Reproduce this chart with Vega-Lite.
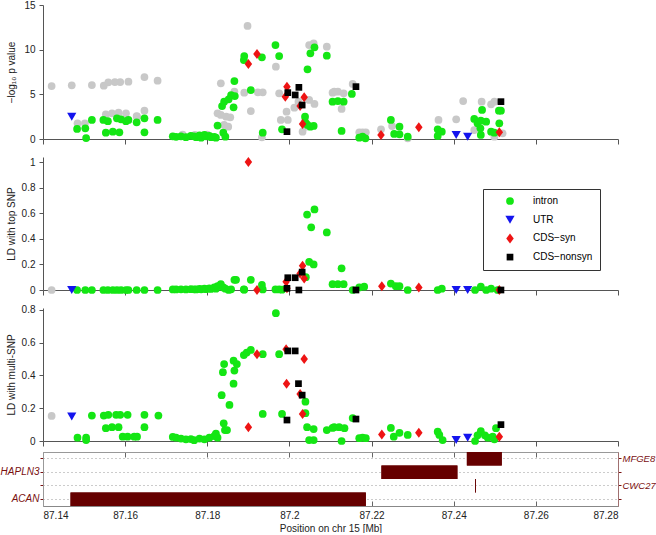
{
  "$schema": "https://vega.github.io/schema/vega-lite/v6.json",
  "padding": 0,
  "background": "white",
  "spacing": 18,
  "bounds": "flush",
  "datasets": {
    "logp": [
      {"x":87.1483,"type":"intron","v":1.12},{"x":87.1503,"type":"intron","v":1.20},{"x":87.1505,"type":"intron","v":0.11},{"x":87.1519,"type":"intron","v":2.13},{"x":87.1547,"type":"intron","v":2.13},{"x":87.1558,"type":"intron","v":2.00},{"x":87.1553,"type":"intron","v":0.71},{"x":87.1570,"type":"intron","v":0.82},{"x":87.1580,"type":"intron","v":2.31},{"x":87.1586,"type":"intron","v":0.75},{"x":87.1590,"type":"intron","v":2.20},{"x":87.1602,"type":"intron","v":2.00},{"x":87.1608,"type":"intron","v":2.13},{"x":87.1628,"type":"intron","v":1.87},{"x":87.1647,"type":"intron","v":2.31},{"x":87.1647,"type":"intron","v":0.75},{"x":87.1679,"type":"intron","v":2.13},
      {"x":87.1716,"type":"intron","v":0.30},{"x":87.1724,"type":"intron","v":0.25},{"x":87.1736,"type":"intron","v":0.30},{"x":87.1748,"type":"intron","v":0.20},{"x":87.1760,"type":"intron","v":0.35},{"x":87.1768,"type":"intron","v":0.30},{"x":87.1773,"type":"intron","v":0.20},{"x":87.1781,"type":"intron","v":0.40},{"x":87.1785,"type":"intron","v":0.15},{"x":87.1793,"type":"intron","v":0.45},{"x":87.1797,"type":"intron","v":0.30},{"x":87.1805,"type":"intron","v":0.35},{"x":87.1809,"type":"intron","v":0.20},{"x":87.1817,"type":"intron","v":0.25},{"x":87.1821,"type":"intron","v":0.15},
      {"x":87.1825,"type":"intron","v":1.50},{"x":87.1836,"type":"intron","v":3.69},{"x":87.1841,"type":"intron","v":4.18},{"x":87.1839,"type":"intron","v":0.71},{"x":87.1844,"type":"intron","v":0.26},{"x":87.1852,"type":"intron","v":4.44},{"x":87.1858,"type":"intron","v":4.90},{"x":87.1867,"type":"intron","v":4.81},{"x":87.1864,"type":"intron","v":3.55},{"x":87.1866,"type":"intron","v":6.49},{"x":87.1889,"type":"intron","v":8.84},{"x":87.1890,"type":"intron","v":9.29},{"x":87.1906,"type":"intron","v":5.48},{"x":87.1933,"type":"intron","v":9.14},{"x":87.1935,"type":"intron","v":0.71},{"x":87.1966,"type":"intron","v":10.52},{"x":87.1975,"type":"intron","v":9.29},{"x":87.1982,"type":"intron","v":1.08},
      {"x":87.2038,"type":"intron","v":2.50},{"x":87.2040,"type":"intron","v":1.79},{"x":87.2044,"type":"intron","v":1.57},{"x":87.2051,"type":"intron","v":1.38},{"x":87.2059,"type":"intron","v":1.46},{"x":87.2044,"type":"intron","v":7.80},{"x":87.2051,"type":"intron","v":9.59},{"x":87.2061,"type":"intron","v":10.26},{"x":87.2091,"type":"intron","v":9.33},{"x":87.2105,"type":"intron","v":4.18},{"x":87.2118,"type":"intron","v":4.25},{"x":87.2132,"type":"intron","v":4.18},{"x":87.2152,"type":"intron","v":5.04},{"x":87.2127,"type":"intron","v":0.90},{"x":87.2170,"type":"intron","v":0.15},{"x":87.2178,"type":"intron","v":0.26},{"x":87.2185,"type":"intron","v":0.08},
      {"x":87.2247,"type":"intron","v":2.13},{"x":87.2255,"type":"intron","v":0.56},{"x":87.2268,"type":"intron","v":0.52},{"x":87.2268,"type":"intron","v":1.38},{"x":87.2288,"type":"intron","v":0.26},{"x":87.2361,"type":"intron","v":1.08},{"x":87.2371,"type":"intron","v":0.82},{"x":87.2361,"type":"intron","v":0.34},{"x":87.2450,"type":"intron","v":2.24},{"x":87.2458,"type":"intron","v":1.76},{"x":87.2466,"type":"intron","v":2.05},{"x":87.2479,"type":"intron","v":1.94},{"x":87.2469,"type":"intron","v":3.25},{"x":87.2465,"type":"intron","v":1.20},{"x":87.2466,"type":"intron","v":0.45},{"x":87.2491,"type":"intron","v":0.82},{"x":87.2499,"type":"intron","v":0.71},{"x":87.2510,"type":"intron","v":3.17},{"x":87.2515,"type":"intron","v":3.17},{"x":87.2511,"type":"intron","v":1.76},
      {"x":87.1470,"type":"UTR","v":2.50},{"x":87.2406,"type":"UTR","v":0.45},{"x":87.2434,"type":"UTR","v":0.26},
      {"x":87.1921,"type":"CDS-syn","v":9.51},{"x":87.1900,"type":"CDS-syn","v":8.40},{"x":87.1994,"type":"CDS-syn","v":5.86},{"x":87.1990,"type":"CDS-syn","v":4.74},{"x":87.2036,"type":"CDS-syn","v":4.66},{"x":87.2026,"type":"CDS-syn","v":3.69},{"x":87.2032,"type":"CDS-syn","v":1.68},{"x":87.2223,"type":"CDS-syn","v":0.45},{"x":87.2315,"type":"CDS-syn","v":1.31},{"x":87.2511,"type":"CDS-syn","v":0.75},
      {"x":87.1996,"type":"CDS-nonsyn","v":5.19},{"x":87.2014,"type":"CDS-nonsyn","v":4.93},{"x":87.2023,"type":"CDS-nonsyn","v":5.78},{"x":87.2031,"type":"CDS-nonsyn","v":3.80},{"x":87.1994,"type":"CDS-nonsyn","v":0.82},{"x":87.2162,"type":"CDS-nonsyn","v":5.86},{"x":87.2515,"type":"CDS-nonsyn","v":4.18}
    ],
    "logpGrey": [
      {"x":87.1421,"v":5.93},{"x":87.1470,"v":6.01},{"x":87.1519,"v":6.04},{"x":87.1548,"v":5.97},{"x":87.1559,"v":6.35},{"x":87.1575,"v":6.38},{"x":87.1588,"v":6.38},{"x":87.1608,"v":6.41},{"x":87.1647,"v":6.94},{"x":87.1679,"v":6.53},
      {"x":87.1484,"v":1.76},{"x":87.1502,"v":1.76},{"x":87.1553,"v":2.76},{"x":87.1568,"v":2.88},{"x":87.1584,"v":2.95},{"x":87.1602,"v":2.88},{"x":87.1628,"v":2.57},{"x":87.1647,"v":3.17},{"x":87.1629,"v":2.50},
      {"x":87.1740,"v":0.50},{"x":87.1770,"v":0.45},{"x":87.1800,"v":0.50},
      {"x":87.1833,"v":6.23},{"x":87.1866,"v":5.30},{"x":87.1890,"v":5.19},{"x":87.1923,"v":5.23},{"x":87.1935,"v":5.23},{"x":87.1967,"v":8.10},{"x":87.1906,"v":3.13},{"x":87.1825,"v":2.88},{"x":87.1833,"v":2.69},{"x":87.1846,"v":2.50},{"x":87.1856,"v":2.43},{"x":87.1841,"v":1.57},{"x":87.1851,"v":1.38},{"x":87.1933,"v":0.19},{"x":87.1898,"v":12.65},
      {"x":87.2048,"v":10.52},{"x":87.2059,"v":10.71},{"x":87.2091,"v":10.34},{"x":87.1975,"v":5.12},{"x":87.1993,"v":3.06},{"x":87.1979,"v":2.13},{"x":87.1996,"v":2.13},{"x":87.2012,"v":3.50},{"x":87.2022,"v":4.18},{"x":87.2048,"v":4.37},{"x":87.2061,"v":3.92},{"x":87.2032,"v":0.82},{"x":87.2040,"v":1.38},{"x":87.2038,"v":2.00},
      {"x":87.2109,"v":5.30},{"x":87.2118,"v":5.30},{"x":87.2105,"v":5.19},{"x":87.2132,"v":5.12},{"x":87.2154,"v":6.16},{"x":87.2127,"v":3.36},{"x":87.2170,"v":0.75},{"x":87.2178,"v":0.75},{"x":87.2186,"v":0.75},{"x":87.2223,"v":1.08},{"x":87.2250,"v":1.45},{"x":87.2288,"v":0.08},
      {"x":87.2363,"v":2.13},{"x":87.2406,"v":2.20},{"x":87.2423,"v":4.25},{"x":87.2468,"v":4.18},{"x":87.2491,"v":3.88},{"x":87.2499,"v":4.18},{"x":87.2450,"v":1.00},{"x":87.2499,"v":0.26},{"x":87.2519,"v":0.64}
    ],
    "ldTop": [
      {"x":87.1483,"type":"intron","v":0},{"x":87.1503,"type":"intron","v":0},{"x":87.1519,"type":"intron","v":0},{"x":87.1547,"type":"intron","v":0},{"x":87.1558,"type":"intron","v":0},{"x":87.1570,"type":"intron","v":0},{"x":87.1580,"type":"intron","v":0},{"x":87.1590,"type":"intron","v":0},{"x":87.1602,"type":"intron","v":0},{"x":87.1608,"type":"intron","v":0},{"x":87.1628,"type":"intron","v":0},{"x":87.1647,"type":"intron","v":0},{"x":87.1679,"type":"intron","v":0},
      {"x":87.1716,"type":"intron","v":0.004},{"x":87.1724,"type":"intron","v":0.004},{"x":87.1736,"type":"intron","v":0.005},{"x":87.1748,"type":"intron","v":0.004},{"x":87.1760,"type":"intron","v":0.006},{"x":87.1768,"type":"intron","v":0.005},{"x":87.1773,"type":"intron","v":0.004},{"x":87.1781,"type":"intron","v":0.008},{"x":87.1785,"type":"intron","v":0.005},{"x":87.1793,"type":"intron","v":0.01},{"x":87.1797,"type":"intron","v":0.006},{"x":87.1805,"type":"intron","v":0.012},{"x":87.1809,"type":"intron","v":0.008},{"x":87.1817,"type":"intron","v":0.02},{"x":87.1821,"type":"intron","v":0.01},
      {"x":87.1825,"type":"intron","v":0.03},{"x":87.1833,"type":"intron","v":0.045},{"x":87.1839,"type":"intron","v":0.02},{"x":87.1844,"type":"intron","v":0.01},{"x":87.1852,"type":"intron","v":0.0},{"x":87.1858,"type":"intron","v":0.005},{"x":87.1866,"type":"intron","v":0.08},{"x":87.1870,"type":"intron","v":0.08},{"x":87.1889,"type":"intron","v":0.004},{"x":87.1890,"type":"intron","v":0.002},{"x":87.1906,"type":"intron","v":0.08},{"x":87.1933,"type":"intron","v":0.04},{"x":87.1935,"type":"intron","v":0.004},{"x":87.1966,"type":"intron","v":0.004},{"x":87.1975,"type":"intron","v":0.004},{"x":87.1982,"type":"intron","v":0.002},
      {"x":87.2040,"type":"intron","v":0.10},{"x":87.2043,"type":"intron","v":0.59},{"x":87.2048,"type":"intron","v":0.22},{"x":87.2053,"type":"intron","v":0.49},{"x":87.2059,"type":"intron","v":0.20},{"x":87.2061,"type":"intron","v":0.63},{"x":87.2091,"type":"intron","v":0.45},{"x":87.2105,"type":"intron","v":0.045},{"x":87.2118,"type":"intron","v":0.045},{"x":87.2132,"type":"intron","v":0.045},{"x":87.2127,"type":"intron","v":0.17},{"x":87.2154,"type":"intron","v":0.0},{"x":87.2170,"type":"intron","v":0.02},{"x":87.2182,"type":"intron","v":0.026},{"x":87.2247,"type":"intron","v":0.05},{"x":87.2259,"type":"intron","v":0.03},{"x":87.2268,"type":"intron","v":0.03},{"x":87.2288,"type":"intron","v":0.0},{"x":87.2361,"type":"intron","v":0.0},{"x":87.2371,"type":"intron","v":0.01},{"x":87.2452,"type":"intron","v":0.0},{"x":87.2466,"type":"intron","v":0.026},{"x":87.2479,"type":"intron","v":0.0},{"x":87.2491,"type":"intron","v":0.01},{"x":87.2507,"type":"intron","v":0.0},
      {"x":87.1470,"type":"UTR","v":0},{"x":87.2406,"type":"UTR","v":0},{"x":87.2434,"type":"UTR","v":0},
      {"x":87.1900,"type":"CDS-syn","v":1.0},{"x":87.1921,"type":"CDS-syn","v":0.0},{"x":87.1992,"type":"CDS-syn","v":0.065},{"x":87.1994,"type":"CDS-syn","v":0.013},{"x":87.2026,"type":"CDS-syn","v":0.13},{"x":87.2032,"type":"CDS-syn","v":0.19},{"x":87.2036,"type":"CDS-syn","v":0.09},{"x":87.2225,"type":"CDS-syn","v":0.03},{"x":87.2315,"type":"CDS-syn","v":0.02},{"x":87.2511,"type":"CDS-syn","v":0.0},
      {"x":87.1994,"type":"CDS-nonsyn","v":0.013},{"x":87.1996,"type":"CDS-nonsyn","v":0.096},{"x":87.2014,"type":"CDS-nonsyn","v":0.096},{"x":87.2023,"type":"CDS-nonsyn","v":0.0},{"x":87.2031,"type":"CDS-nonsyn","v":0.14},{"x":87.2162,"type":"CDS-nonsyn","v":0.0},{"x":87.2515,"type":"CDS-nonsyn","v":0.0}
    ],
    "ldMulti": [
      {"x":87.1484,"type":"intron","v":0.02},{"x":87.1505,"type":"intron","v":0.02},{"x":87.1505,"type":"intron","v":0.006},{"x":87.1519,"type":"intron","v":0.155},{"x":87.1548,"type":"intron","v":0.155},{"x":87.1559,"type":"intron","v":0.16},{"x":87.1553,"type":"intron","v":0.078},{"x":87.1568,"type":"intron","v":0.084},{"x":87.1584,"type":"intron","v":0.084},{"x":87.1578,"type":"intron","v":0.16},{"x":87.1588,"type":"intron","v":0.16},{"x":87.1606,"type":"intron","v":0.16},{"x":87.1594,"type":"intron","v":0.026},{"x":87.1606,"type":"intron","v":0.026},{"x":87.1622,"type":"intron","v":0.026},{"x":87.1629,"type":"intron","v":0.026},{"x":87.1647,"type":"intron","v":0.16},{"x":87.1647,"type":"intron","v":0.084},{"x":87.1681,"type":"intron","v":0.155},
      {"x":87.1716,"type":"intron","v":0.025},{"x":87.1724,"type":"intron","v":0.02},{"x":87.1736,"type":"intron","v":0.015},{"x":87.1748,"type":"intron","v":0.01},{"x":87.1760,"type":"intron","v":0.012},{"x":87.1768,"type":"intron","v":0.005},{"x":87.1781,"type":"intron","v":0.015},{"x":87.1793,"type":"intron","v":0.01},{"x":87.1805,"type":"intron","v":0.02},{"x":87.1817,"type":"intron","v":0.03},{"x":87.1821,"type":"intron","v":0.045},{"x":87.1825,"type":"intron","v":0.02},
      {"x":87.1835,"type":"intron","v":0.28},{"x":87.1838,"type":"intron","v":0.42},{"x":87.1841,"type":"intron","v":0.47},{"x":87.1840,"type":"intron","v":0.108},{"x":87.1843,"type":"intron","v":0.067},{"x":87.1848,"type":"intron","v":0.067},{"x":87.1854,"type":"intron","v":0.22},{"x":87.1864,"type":"intron","v":0.35},{"x":87.1866,"type":"intron","v":0.43},{"x":87.1864,"type":"intron","v":0.49},{"x":87.1872,"type":"intron","v":0.47},{"x":87.1889,"type":"intron","v":0.525},{"x":87.1896,"type":"intron","v":0.54},{"x":87.1906,"type":"intron","v":0.556},{"x":87.1935,"type":"intron","v":0.53},{"x":87.1935,"type":"intron","v":0.165},{"x":87.1967,"type":"intron","v":0.78},{"x":87.1975,"type":"intron","v":0.53},{"x":87.1982,"type":"intron","v":0.165},
      {"x":87.2039,"type":"intron","v":0.24},{"x":87.2039,"type":"intron","v":0.17},{"x":87.2043,"type":"intron","v":0.084},{"x":87.2059,"type":"intron","v":0.073},{"x":87.2048,"type":"intron","v":0.006},{"x":87.2059,"type":"intron","v":0.006},{"x":87.2091,"type":"intron","v":0.067},{"x":87.2109,"type":"intron","v":0.084},{"x":87.2121,"type":"intron","v":0.084},{"x":87.2105,"type":"intron","v":0.08},{"x":87.2134,"type":"intron","v":0.078},{"x":87.2154,"type":"intron","v":0.14},{"x":87.2127,"type":"intron","v":0.0},{"x":87.2170,"type":"intron","v":0.017},{"x":87.2178,"type":"intron","v":0.02},{"x":87.2186,"type":"intron","v":0.017},
      {"x":87.2247,"type":"intron","v":0.08},{"x":87.2254,"type":"intron","v":0.026},{"x":87.2268,"type":"intron","v":0.05},{"x":87.2288,"type":"intron","v":0.037},{"x":87.2361,"type":"intron","v":0.057},{"x":87.2365,"type":"intron","v":0.037},{"x":87.2373,"type":"intron","v":0.006},{"x":87.2452,"type":"intron","v":0.0},{"x":87.2458,"type":"intron","v":0.035},{"x":87.2466,"type":"intron","v":0.06},{"x":87.2476,"type":"intron","v":0.035},{"x":87.2483,"type":"intron","v":0.02},{"x":87.2495,"type":"intron","v":0.026},{"x":87.2499,"type":"intron","v":0.01},{"x":87.2503,"type":"intron","v":0.078},
      {"x":87.1470,"type":"UTR","v":0.15},{"x":87.2406,"type":"UTR","v":0.006},{"x":87.2434,"type":"UTR","v":0.02},
      {"x":87.1900,"type":"CDS-syn","v":0.084},{"x":87.1921,"type":"CDS-syn","v":0.53},{"x":87.1992,"type":"CDS-syn","v":0.56},{"x":87.1993,"type":"CDS-syn","v":0.35},{"x":87.2026,"type":"CDS-syn","v":0.287},{"x":87.2032,"type":"CDS-syn","v":0.165},{"x":87.2036,"type":"CDS-syn","v":0.5},{"x":87.2225,"type":"CDS-syn","v":0.04},{"x":87.2315,"type":"CDS-syn","v":0.05},{"x":87.2511,"type":"CDS-syn","v":0.026},
      {"x":87.1996,"type":"CDS-nonsyn","v":0.55},{"x":87.2014,"type":"CDS-nonsyn","v":0.55},{"x":87.2022,"type":"CDS-nonsyn","v":0.35},{"x":87.2031,"type":"CDS-nonsyn","v":0.28},{"x":87.1994,"type":"CDS-nonsyn","v":0.128},{"x":87.2162,"type":"CDS-nonsyn","v":0.134},{"x":87.2515,"type":"CDS-nonsyn","v":0.1}
    ],
    "greyLD": [{"x":87.1421,"top":0,"multi":0.153}],
    "genes": [
      {"gene":"MFGE8","start":87.2432,"end":87.2517},
      {"gene":"HAPLN3","start":87.2224,"end":87.2409},
      {"gene":"CWC27","start":87.2452,"end":87.2454},
      {"gene":"ACAN","start":87.1467,"end":87.2186}
    ]
  },
  "vconcat": [
    {
      "width": 575, "height": 134,
      "layer": [
        {
          "data": {"name": "logpGrey"},
          "mark": {"type": "point", "filled": true, "opacity": 1, "size": 60, "color": "#c8c8c8", "shape": "circle"},
          "encoding": {
            "x": {"field": "x", "type": "quantitative", "scale": {"domain": [87.14, 87.28], "nice": false, "zero": false}, "axis": {"values": [87.14,87.16,87.18,87.2,87.22,87.24,87.26,87.28], "labels": false, "tickSize": 5, "title": null}},
            "y": {"field": "v", "type": "quantitative", "scale": {"domain": [0, 15], "nice": false}, "axis": {"values": [0,5,10,15], "format": "~g", "labelOverlap": false, "title": "−log₁₀ p value", "titleX": -27, "tickSize": 4, "labelPadding": 4}}
          }
        },
        {
          "data": {"name": "logp"},
          "mark": {"type": "point", "filled": true, "opacity": 1, "strokeWidth": 0},
          "encoding": {
            "x": {"field": "x", "type": "quantitative", "axis": {"values": [87.14,87.16,87.18,87.2,87.22,87.24,87.26,87.28], "labels": false, "tickSize": 5, "title": null}},
            "y": {"field": "v", "type": "quantitative", "axis": {"values": [0,5,10,15], "format": "~g", "labelOverlap": false, "title": "−log₁₀ p value", "titleX": -27, "tickSize": 4, "labelPadding": 4}},
            "color": {"field": "type", "type": "nominal", "scale": {"domain": ["intron","UTR","CDS-syn","CDS-nonsyn"], "range": ["#14e614","#1414ee","#ee1414","#000000"]}, "legend": null},
            "shape": {"field": "type", "type": "nominal", "scale": {"domain": ["intron","UTR","CDS-syn","CDS-nonsyn"], "range": ["circle","triangle-down","M0,-1L0.75,0L0,1L-0.75,0Z","square"]}, "legend": null},
            "size": {"field": "type", "type": "nominal", "scale": {"type": "ordinal", "domain": ["intron","UTR","CDS-syn","CDS-nonsyn"], "range": [60,85,100,45]}, "legend": null}
          }
        }
      ]
    },
    {
      "width": 575, "height": 133,
      "layer": [
        {
          "data": {"name": "greyLD"},
          "mark": {"type": "point", "filled": true, "opacity": 1, "size": 60, "color": "#c8c8c8", "shape": "circle"},
          "encoding": {
            "x": {"field": "x", "type": "quantitative", "scale": {"domain": [87.14, 87.28], "nice": false, "zero": false}, "axis": {"values": [87.14,87.16,87.18,87.2,87.22,87.24,87.26,87.28], "labels": false, "tickSize": 5, "title": null}},
            "y": {"field": "top", "type": "quantitative", "scale": {"domain": [0, 1.04], "nice": false}, "axis": {"values": [0,0.2,0.4,0.6,0.8,1], "format": "~g", "labelOverlap": false, "title": "LD with top SNP", "titleX": -27, "tickSize": 4, "labelPadding": 4}}
          }
        },
        {
          "data": {"name": "ldTop"},
          "mark": {"type": "point", "filled": true, "opacity": 1, "strokeWidth": 0},
          "encoding": {
            "x": {"field": "x", "type": "quantitative", "axis": {"values": [87.14,87.16,87.18,87.2,87.22,87.24,87.26,87.28], "labels": false, "tickSize": 5, "title": null}},
            "y": {"field": "v", "type": "quantitative", "axis": {"values": [0,0.2,0.4,0.6,0.8,1], "format": "~g", "labelOverlap": false, "title": "LD with top SNP", "titleX": -27, "tickSize": 4, "labelPadding": 4}},
            "color": {"field": "type", "type": "nominal", "scale": {"domain": ["intron","UTR","CDS-syn","CDS-nonsyn"], "range": ["#14e614","#1414ee","#ee1414","#000000"]},
              "legend": {"orient": "none", "legendX": 440, "legendY": 32, "title": null, "strokeColor": "#333", "fillColor": "white", "padding": 7, "symbolOffset": 15, "labelOffset": 18, "rowPadding": 8.7, "labelFontSize": 10, "labelFont": "Liberation Sans", "labelColor": "#000", "symbolSize": 55, "symbolOpacity": 1, "symbolStrokeWidth": 0, "labelExpr": "replace(datum.label, '-', '−')"}},
            "shape": {"field": "type", "type": "nominal", "scale": {"domain": ["intron","UTR","CDS-syn","CDS-nonsyn"], "range": ["circle","triangle-down","M0,-1L0.75,0L0,1L-0.75,0Z","square"]},
              "legend": {"orient": "none", "legendX": 440, "legendY": 32, "title": null, "strokeColor": "#333", "fillColor": "white", "padding": 7, "symbolOffset": 15, "labelOffset": 18, "rowPadding": 8.7, "labelFontSize": 10, "labelFont": "Liberation Sans", "labelColor": "#000", "symbolSize": 55, "symbolOpacity": 1, "symbolStrokeWidth": 0, "labelExpr": "replace(datum.label, '-', '−')"}},
            "size": {"field": "type", "type": "nominal", "scale": {"type": "ordinal", "domain": ["intron","UTR","CDS-syn","CDS-nonsyn"], "range": [60,85,100,45]}, "legend": null}
          }
        }
      ]
    },
    {
      "width": 575, "height": 133,
      "layer": [
        {
          "data": {"name": "greyLD"},
          "mark": {"type": "point", "filled": true, "opacity": 1, "size": 60, "color": "#c8c8c8", "shape": "circle"},
          "encoding": {
            "x": {"field": "x", "type": "quantitative", "scale": {"domain": [87.14, 87.28], "nice": false, "zero": false}, "axis": {"values": [87.14,87.16,87.18,87.2,87.22,87.24,87.26,87.28], "labels": false, "tickSize": 5, "title": null}},
            "y": {"field": "multi", "type": "quantitative", "scale": {"domain": [0, 0.812], "nice": false}, "axis": {"values": [0,0.2,0.4,0.6,0.8], "format": "~g", "labelOverlap": false, "title": "LD with multi-SNP", "titleX": -27, "tickSize": 4, "labelPadding": 4}}
          }
        },
        {
          "data": {"name": "ldMulti"},
          "mark": {"type": "point", "filled": true, "opacity": 1, "strokeWidth": 0},
          "encoding": {
            "x": {"field": "x", "type": "quantitative", "axis": {"values": [87.14,87.16,87.18,87.2,87.22,87.24,87.26,87.28], "labels": false, "tickSize": 5, "title": null}},
            "y": {"field": "v", "type": "quantitative", "axis": {"values": [0,0.2,0.4,0.6,0.8], "format": "~g", "labelOverlap": false, "title": "LD with multi-SNP", "titleX": -27, "tickSize": 4, "labelPadding": 4}},
            "color": {"field": "type", "type": "nominal", "scale": {"domain": ["intron","UTR","CDS-syn","CDS-nonsyn"], "range": ["#14e614","#1414ee","#ee1414","#000000"]}, "legend": null},
            "shape": {"field": "type", "type": "nominal", "scale": {"domain": ["intron","UTR","CDS-syn","CDS-nonsyn"], "range": ["circle","triangle-down","M0,-1L0.75,0L0,1L-0.75,0Z","square"]}, "legend": null},
            "size": {"field": "type", "type": "nominal", "scale": {"type": "ordinal", "domain": ["intron","UTR","CDS-syn","CDS-nonsyn"], "range": [60,85,100,45]}, "legend": null}
          }
        }
      ]
    },
    {
      "width": 575, "height": 47,
      "data": {"name": "genes"},
      "layer": [
        {
          "mark": {"type": "bar", "color": "#660000"},
          "encoding": {
            "x": {"field": "start", "type": "quantitative", "scale": {"domain": [87.14, 87.28], "nice": false, "zero": false}, "axis": {"orient": "bottom", "values": [87.14,87.16,87.18,87.2,87.22,87.24,87.26,87.28], "format": "~g", "labelOverlap": false, "tickSize": -5, "labelPadding": 9, "title": "Position on chr 15 [Mb]", "titlePadding": 3, "domainColor": "#888", "tickColor": "#666"}},
            "x2": {"field": "end"},
            "y": {"field": "gene", "type": "nominal", "scale": {"domain": ["MFGE8","HAPLN3","CWC27","ACAN"], "range": [-7, 47], "paddingInner": 0, "paddingOuter": 0},
              "axis": {"orient": "left", "title": null, "labelExpr": "datum.value == 'HAPLN3' || datum.value == 'ACAN' ? datum.value : ''", "labelFontStyle": "italic", "labelColor": "#7a1010", "tickColor": "#7a1010", "tickSize": 3, "labelPadding": 1, "grid": true, "gridDash": [1, 3], "gridColor": "#999", "domainColor": "#999"}}
          }
        },
        {
          "mark": {"type": "bar", "color": "#660000"},
          "encoding": {
            "x": {"field": "start", "type": "quantitative", "axis": {"orient": "top", "values": [87.14,87.16,87.18,87.2,87.22,87.24,87.26,87.28], "labels": false, "tickSize": -5, "offset": 7, "title": null, "domainColor": "#999", "tickColor": "#666"}},
            "x2": {"field": "end"},
            "y": {"field": "gene", "type": "nominal",
              "axis": {"orient": "right", "title": null, "labelExpr": "datum.value == 'MFGE8' || datum.value == 'CWC27' ? datum.value : ''", "labelFontStyle": "italic", "labelFontSize": 9.5, "labelColor": "#7a1010", "tickColor": "#7a1010", "tickSize": 3, "labelPadding": 1, "grid": false, "domainColor": "#a07070"}}
          }
        }
      ],
      "resolve": {"axis": {"x": "independent", "y": "independent"}}
    }
  ],
  "resolve": {"scale": {"color": "independent", "shape": "independent", "size": "independent", "x": "independent", "y": "independent"}},
  "config": {
    "font": "Liberation Sans",
    "view": {"stroke": null},
    "axis": {"labelFont": "Liberation Sans", "titleFont": "Liberation Sans", "labelFontSize": 10, "titleFontSize": 10, "titleFontWeight": "normal", "labelColor": "#222", "titleColor": "#222", "domainColor": "#555", "tickColor": "#555", "grid": false}
  }
}
